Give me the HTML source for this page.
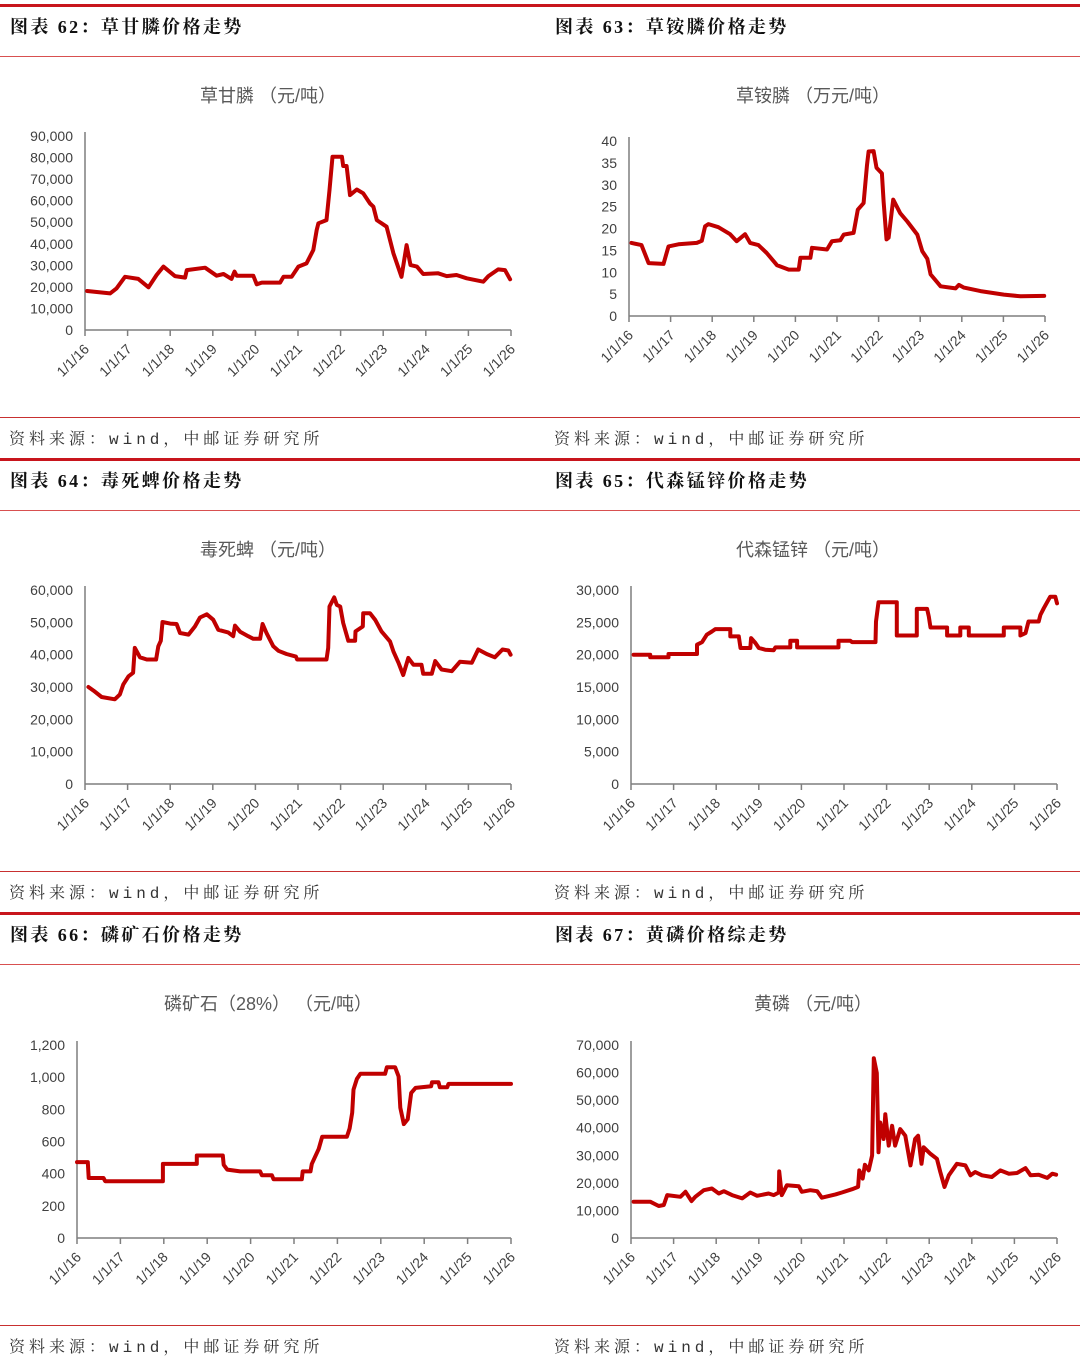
<!DOCTYPE html>
<html><head><meta charset="utf-8">
<style>
html,body{margin:0;padding:0;background:#fff;}
svg{display:block;}
.hd{font-family:"Liberation Serif","Noto Serif CJK SC",serif;font-weight:700;font-size:18px;fill:#111;letter-spacing:2.4px;}
.src{font-family:"Liberation Mono","Noto Serif CJK SC",serif;font-size:16px;fill:#333;letter-spacing:4px;}
.ct{font-family:"Liberation Sans","Noto Sans CJK SC",sans-serif;font-size:18px;fill:#595959;}
.yl{font-family:"Liberation Sans","Noto Sans CJK SC",sans-serif;font-size:14px;fill:#404040;}
.xl{font-family:"Liberation Sans","Noto Sans CJK SC",sans-serif;font-size:14px;fill:#404040;}
</style></head>
<body>
<svg id="page" width="1080" height="1366" viewBox="0 0 1080 1366" xmlns="http://www.w3.org/2000/svg">
<rect x="0" y="4" width="1080" height="3" fill="#c8151d"/>
<rect x="0" y="458" width="1080" height="3" fill="#c8151d"/>
<rect x="0" y="912" width="1080" height="3" fill="#c8151d"/>
<rect x="0" y="56" width="1080" height="1" fill="#d85050"/>
<rect x="0" y="510" width="1080" height="1" fill="#d85050"/>
<rect x="0" y="964" width="1080" height="1" fill="#d85050"/>
<rect x="0" y="417" width="1080" height="1" fill="#c83030"/>
<rect x="0" y="871" width="1080" height="1" fill="#c83030"/>
<rect x="0" y="1325" width="1080" height="1" fill="#c83030"/>

<text class="hd" x="10" y="33">图表 62：草甘膦价格走势</text>
<text class="hd" x="555" y="33">图表 63：草铵膦价格走势</text>
<text class="hd" x="10" y="487">图表 64：毒死蜱价格走势</text>
<text class="hd" x="555" y="487">图表 65：代森锰锌价格走势</text>
<text class="hd" x="10" y="941">图表 66：磷矿石价格走势</text>
<text class="hd" x="555" y="941">图表 67：黄磷价格综走势</text>

<text class="src" x="9" y="444">资料来源：wind，中邮证券研究所</text>
<text class="src" x="554" y="444">资料来源：wind，中邮证券研究所</text>
<text class="src" x="9" y="898">资料来源：wind，中邮证券研究所</text>
<text class="src" x="554" y="898">资料来源：wind，中邮证券研究所</text>
<text class="src" x="9" y="1352">资料来源：wind，中邮证券研究所</text>
<text class="src" x="554" y="1352">资料来源：wind，中邮证券研究所</text>

<text class="ct" x="268" y="102" text-anchor="middle">草甘膦 （元/吨）</text>
<text class="ct" x="813" y="102" text-anchor="middle">草铵膦 （万元/吨）</text>
<text class="ct" x="268" y="556" text-anchor="middle">毒死蜱 （元/吨）</text>
<text class="ct" x="813" y="556" text-anchor="middle">代森锰锌 （元/吨）</text>
<text class="ct" x="268" y="1010" text-anchor="middle">磷矿石（28%） （元/吨）</text>
<text class="ct" x="813" y="1010" text-anchor="middle">黄磷 （元/吨）</text>
</svg>
<script>
const xTickLabels = ['1/1/16','1/1/17','1/1/18','1/1/19','1/1/20','1/1/21','1/1/22','1/1/23','1/1/24','1/1/25','1/1/26'];
const xTickYears = [2016,2017,2018,2019,2020,2021,2022,2023,2024,2025,2026];

const c1Years = [16.05,16.59,16.74,16.94,17.25,17.49,17.68,17.84,18.11,18.35,18.39,18.82,19.09,19.25,19.44,19.51,19.56,19.95,20.03,20.15,20.58,20.66,20.85,21.01,21.20,21.36,21.44,21.48,21.67,21.74,21.81,22.03,22.06,22.14,22.22,22.38,22.53,22.69,22.77,22.85,23.08,23.24,23.43,23.55,23.64,23.79,23.94,24.29,24.49,24.72,24.96,25.35,25.47,25.70,25.86,25.98];
const c1Values = [18100,17000,19300,24700,23700,19800,25500,29400,25000,24300,27800,28900,25200,26000,23700,27100,25200,25200,21200,22000,22000,24700,24700,29400,30900,37100,46400,49500,51000,64900,80400,80400,76100,76100,62600,65200,63400,58700,57200,51000,47900,35600,24700,39400,30100,29400,26000,26300,25000,25500,24000,22400,25000,28100,27800,23500];
const c1Ticks = [0,10000,20000,30000,40000,50000,60000,70000,80000,90000];

const c2Years = [16.06,16.30,16.47,16.83,16.95,17.19,17.63,17.75,17.83,17.91,18.15,18.43,18.59,18.79,18.91,19.11,19.31,19.56,19.84,20.08,20.12,20.36,20.40,20.76,20.88,21.08,21.16,21.40,21.50,21.64,21.72,21.76,21.88,21.95,22.08,22.12,22.19,22.24,22.35,22.52,22.69,22.93,23.05,23.17,23.25,23.49,23.85,23.93,24.05,24.45,25.01,25.41,25.98];
const c2Values = [16.7,16.2,12.1,11.9,15.9,16.4,16.7,17.2,20.5,21.0,20.3,18.7,17.1,18.7,16.7,16.2,14.4,11.6,10.6,10.6,13.3,13.3,15.6,15.2,17.1,17.3,18.6,19.0,24.3,25.8,34.5,37.6,37.7,33.9,32.6,26.2,17.5,17.9,26.6,23.5,21.6,18.6,14.8,13.1,9.5,6.8,6.3,7.1,6.5,5.7,4.9,4.5,4.6];
const c2Ticks = [0,5,10,15,20,25,30,35,40];

const c3Years = [16.08,16.20,16.39,16.70,16.82,16.90,17.02,17.13,17.17,17.29,17.45,17.67,17.72,17.78,17.82,18.00,18.15,18.23,18.43,18.58,18.70,18.86,19.01,19.13,19.36,19.48,19.52,19.64,19.83,19.95,20.11,20.17,20.26,20.42,20.54,20.73,20.95,20.98,21.67,21.71,21.74,21.85,21.91,21.99,22.06,22.18,22.34,22.35,22.52,22.53,22.69,22.81,22.96,23.16,23.24,23.36,23.47,23.59,23.71,23.90,23.94,24.14,24.22,24.37,24.61,24.80,25.08,25.23,25.43,25.62,25.80,25.94,25.99];
const c3Values = [30000,28900,26900,26200,27700,30800,33300,34400,42100,39200,38500,38500,42600,44300,50100,49600,49500,46700,46200,48700,51500,52500,50800,47700,46900,45700,49000,47100,45700,44900,44900,49500,46700,42600,41200,40200,39400,38500,38500,42100,54900,57700,55400,54900,49800,44300,44300,47200,48700,52800,52800,50800,47200,44100,41000,37500,33700,39000,36900,36900,34100,34100,38000,35400,34900,37800,37500,41600,40200,39200,41600,41300,40000];
const c3Ticks = [0,10000,20000,30000,40000,50000,60000];

const c4Years = [16.06,16.45,16.45,16.88,16.88,17.55,17.55,17.67,17.78,17.90,17.98,18.33,18.33,18.53,18.57,18.80,18.82,18.92,19.00,19.15,19.35,19.39,19.74,19.74,19.90,19.90,20.87,20.87,21.15,21.19,21.74,21.75,21.81,22.24,22.24,22.71,22.71,22.95,22.99,23.03,23.42,23.42,23.73,23.73,23.93,23.93,24.75,24.75,25.14,25.14,25.26,25.33,25.57,25.61,25.69,25.84,25.96,26.00];
const c4Values = [20000,20000,19590,19590,20100,20100,21540,21950,23080,23590,23950,23950,22820,22820,21030,21030,22560,21800,21030,20770,20670,21130,21130,22150,22150,21130,21130,22150,22150,21950,21950,25130,28100,28100,22970,22970,27080,27080,25900,24200,24200,22970,22970,24200,24200,22970,22970,24200,24200,22970,23330,25130,25130,26150,27180,28970,28970,27950];
const c4Ticks = [0,5000,10000,15000,20000,25000,30000];

const c5Years = [16.00,16.25,16.27,16.61,16.65,17.98,17.98,18.76,18.76,19.36,19.38,19.46,19.76,20.22,20.26,20.49,20.53,21.18,21.20,21.38,21.41,21.57,21.65,22.22,22.28,22.34,22.37,22.45,22.53,23.10,23.14,23.33,23.41,23.45,23.53,23.62,23.70,23.80,24.16,24.18,24.33,24.36,24.53,24.56,26.00];
const c5Values = [472,472,373,373,353,353,461,461,513,513,455,425,414,414,390,390,365,365,414,414,461,554,630,630,681,779,923,989,1021,1021,1062,1062,1005,810,708,738,902,933,943,968,968,937,937,958,958];
const c5Ticks = [0,200,400,600,800,1000,1200];

const c6Years = [16.06,16.45,16.65,16.77,16.85,17.16,17.28,17.42,17.51,17.71,17.90,18.06,18.18,18.37,18.61,18.80,18.96,19.23,19.35,19.47,19.48,19.54,19.66,19.94,20.01,20.21,20.37,20.48,20.80,20.95,21.19,21.33,21.36,21.44,21.49,21.58,21.66,21.70,21.77,21.81,21.85,21.93,21.97,22.05,22.13,22.20,22.32,22.44,22.56,22.67,22.74,22.82,22.87,23.03,23.18,23.26,23.36,23.46,23.65,23.85,23.97,24.08,24.24,24.47,24.67,24.87,25.06,25.26,25.38,25.57,25.77,25.89,25.98];
const c6Values = [13160,13160,11610,11970,15560,14960,16750,13400,14960,17350,17950,16150,16990,15560,14360,16510,15320,16150,15560,16510,24170,15560,19150,18790,16750,17350,16990,14600,15800,16510,17710,18550,24530,21540,26560,24530,29910,65210,59830,31110,41880,35900,44870,33500,40680,33500,39490,37090,26330,35900,37090,26920,32910,30510,28720,23930,18550,22740,26920,26330,22740,23930,22740,22130,24530,23330,23570,25370,22740,22970,21780,23330,22970];
const c6Ticks = [0,10000,20000,30000,40000,50000,60000,70000];

const NS = 'http://www.w3.org/2000/svg';
const page = document.getElementById('page');
function el(tag, attrs, parent){
  const e = document.createElementNS(NS, tag);
  for (const k in attrs) e.setAttribute(k, attrs[k]);
  parent.appendChild(e);
  return e;
}
function fmt(v){ return v.toLocaleString('en-US'); }

function drawChart(id, cfg, years, values, ticks){
  const g = el('g', {}, page);
  
  
  const maxV = ticks[ticks.length - 1];
  const xs = y => cfg.x0 + (y - 2016) / 10 * (cfg.x1 - cfg.x0);
  const ys = v => cfg.yB - v / maxV * (cfg.yB - cfg.yT);
  const ya = el('line', {x1:cfg.x0, x2:cfg.x0, y1:cfg.yT - 4, y2:cfg.yB, stroke:'#7f7f7f', 'stroke-width':1.5}, g);
  
  
  const xa = el('line', {x1:cfg.x0, x2:cfg.x1, y1:cfg.yB, y2:cfg.yB, stroke:'#7f7f7f', 'stroke-width':1.5}, g);
  
  
  ticks.forEach(t => {
    const lab = el('text', {x:cfg.x0 - 12, y:ys(t) + 5, 'text-anchor':'end', class:'yl'}, g);
    lab.textContent = cfg.fmt ? fmt(t) : String(t);
    
    
  });
  xTickYears.forEach((yr, i) => {
    const x = xs(yr);
    const tk = el('line', {x1:x, x2:x, y1:cfg.yB, y2:cfg.yB + 6, stroke:'#7f7f7f', 'stroke-width':1.5}, g);
    
    
    const tx = x + 5, ty = cfg.yB + 20;
    const lab = el('text', {x:tx, y:ty, 'text-anchor':'end', class:'xl', transform:'rotate(-45 ' + tx + ' ' + ty + ')'}, g);
    lab.textContent = xTickLabels[i];
    
    
  });
  let d = '';
  years.forEach((yr, i) => {
    d += (i ? 'L' : 'M') + xs(2000 + yr).toFixed(1) + ' ' + ys(values[i]).toFixed(1);
  });
  const p = el('path', {d:d, fill:'none', stroke:'#c00000', 'stroke-width':4, 'stroke-linejoin':'round', 'stroke-linecap':'round'}, g);
  
  
}

drawChart('glyphosate', {x0:85, x1:511, yT:136, yB:330, fmt:true}, c1Years, c1Values, c1Ticks);
drawChart('glufosinate', {x0:629, x1:1045, yT:141, yB:316, fmt:false}, c2Years, c2Values, c2Ticks);
drawChart('chlorpyrifos', {x0:85, x1:511, yT:590, yB:784, fmt:true}, c3Years, c3Values, c3Ticks);
drawChart('mancozeb', {x0:631, x1:1057, yT:590, yB:784, fmt:true}, c4Years, c4Values, c4Ticks);
drawChart('phosphate-rock', {x0:77, x1:511, yT:1045, yB:1238, fmt:true}, c5Years, c5Values, c5Ticks);
drawChart('yellow-phosphorus', {x0:631, x1:1057, yT:1045, yB:1238, fmt:true}, c6Years, c6Values, c6Ticks);
</script>
</body></html>
